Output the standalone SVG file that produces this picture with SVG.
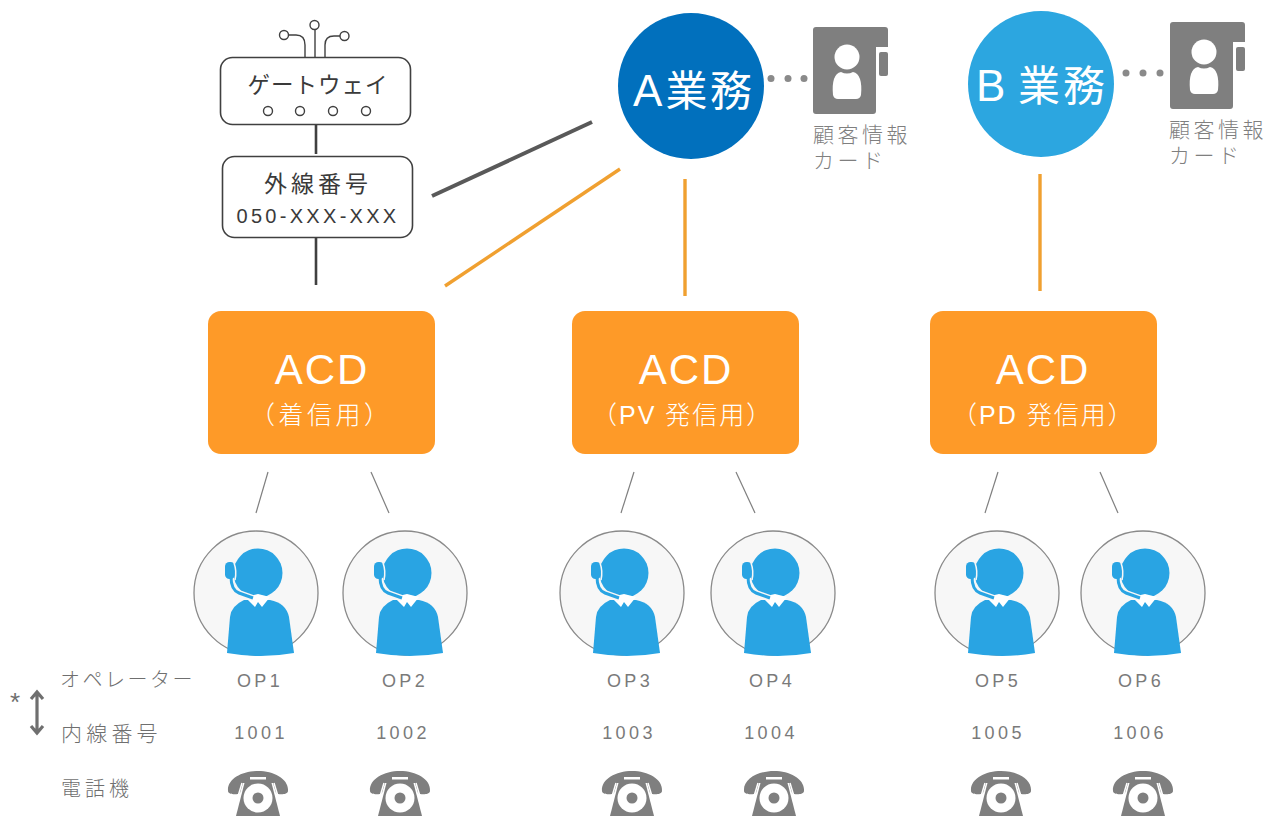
<svg xmlns="http://www.w3.org/2000/svg" width="1267" height="816" viewBox="0 0 1267 816">
<style>
text{font-family:"Liberation Sans","Noto Sans CJK JP",sans-serif}
.g{fill:#7f7f7f;font-size:21px;letter-spacing:3.5px;font-weight:300}
.op{fill:#7a7a7a;font-size:18px;letter-spacing:3.4px;text-anchor:middle}
.k{fill:#3a3a3a;text-anchor:middle}
.acd{fill:#fe9a28}
.w{fill:#fff}
.big{fill:#fff;text-anchor:middle;font-size:42px;letter-spacing:2px}
.sub{fill:#fff;font-size:25px;font-weight:300}
.box{fill:#fff;stroke:#404040;stroke-width:1.6}
.ln{stroke:#404040;stroke-width:2.6;fill:none}
.or{stroke:#f0a030;stroke-width:3.4;fill:none}
.th{stroke:#7f7f7f;stroke-width:1.2;fill:none}
.thin{fill:none;stroke:#404040;stroke-width:1.4}
.leg{fill:#6f6f6f;font-weight:300}
</style>
<defs>
<g id="oper">
<circle cx="0" cy="0" r="62" fill="#f7f7f7" stroke="#8a8a8a" stroke-width="1.3"/>
<circle cx="2" cy="-20" r="24.500" fill="#29a4e3"/>
<path d="M-29 60 L-26 24 Q-25 13 -12 7 L14 7 Q30 10 33 24 L38 60 Q5 66 -29 60Z" fill="#29a4e3"/>
<path d="M-11 4 L-1 14 L2 9 L6 14 L14 4 L2 1Z" fill="#fff"/>
<path d="M-25 -16 Q-25 -3 -17 0 L-3 5" fill="none" stroke="#f7f7f7" stroke-width="6"/>
<path d="M-25 -16 Q-25 -3 -17 0 L-3 5" fill="none" stroke="#29a4e3" stroke-width="3"/>
<rect x="-31" y="-31" width="10" height="17" rx="4.500" fill="#29a4e3"/>
<path d="M-22 -30 Q-19 -22 -21 -13" fill="none" stroke="#f7f7f7" stroke-width="1.500"/>
</g>
<g id="phone">
<path d="M-30 -4 C-31 -16 -16 -24 0 -24 C16 -24 31 -16 30 -4 C30 0 20 0 18 -2 L15 -12 L-15 -12 L-18 -2 C-20 0 -30 0 -30 -4Z" fill="#7f7f7f"/>
<path d="M-13 -14 L13 -14 L22 21 L-22 21Z" fill="#7f7f7f"/>
<path d="M-16 -12 L-22 8 M16 -12 L22 8" stroke="#fff" stroke-width="1.500" fill="none"/>
<rect x="-8" y="-18" width="16" height="2.500" fill="#fff"/>
<circle cx="0" cy="3" r="14.500" fill="#fff"/>
<circle cx="0" cy="3" r="5.500" fill="#7f7f7f"/>
</g>
<g id="card">
<path d="M3 0 H72 Q75 0 75 3 V20 H63 V84 Q63 87 60 87 H3 Q0 87 0 84 V3 Q0 0 3 0Z" fill="#7f7f7f"/>
<rect x="66" y="25" width="9" height="24" rx="2" fill="#7f7f7f"/>
<circle cx="34" cy="30" r="12.500" fill="#fff"/>
<path d="M20 68 Q19 58 21 52 Q23 46 28 45 Q34 48 40 45 Q45 46 47 52 Q49 58 48 68 Q47 72 43 72 L25 72 Q21 72 20 68Z" fill="#fff"/>
</g>
</defs>

<g id="connectors">
<line class="ln" x1="316" y1="124" x2="316" y2="154"/>
<line class="ln" x1="316" y1="237" x2="316" y2="285"/>
<line x1="432" y1="196" x2="592" y2="122" stroke="#595959" stroke-width="4"/>
<line class="or" x1="445" y1="286" x2="620" y2="169"/>
<line class="or" x1="685" y1="179" x2="685" y2="296"/>
<line class="or" x1="1040" y1="174" x2="1040" y2="291"/>
<line class="th" x1="268" y1="472" x2="256" y2="513"/>
<line class="th" x1="371" y1="472" x2="389" y2="513"/>
<line class="th" x1="634" y1="472" x2="621" y2="513"/>
<line class="th" x1="736" y1="472" x2="755" y2="513"/>
<line class="th" x1="998" y1="472" x2="985" y2="513"/>
<line class="th" x1="1100" y1="472" x2="1118" y2="513"/>
<g fill="#8a8a8a">
<circle cx="771" cy="78.500" r="3.500"/><circle cx="788" cy="78.500" r="3.500"/><circle cx="804" cy="78.500" r="3.500"/>
<circle cx="1126" cy="73" r="3.500"/><circle cx="1143" cy="73" r="3.500"/><circle cx="1160" cy="73" r="3.500"/>
</g>
</g>

<g id="gateway">
<path class="thin" d="M305 57 V45 Q305 35 296 35 H289"/>
<circle class="thin" cx="284" cy="35" r="4.500"/>
<line class="thin" x1="315" y1="57" x2="315" y2="30"/>
<circle class="thin" cx="314.500" cy="25" r="4.500"/>
<path class="thin" d="M325 57 V45 Q325 36 334 36 H340"/>
<circle class="thin" cx="344.500" cy="36" r="4.500"/>
<rect class="box" x="220.500" y="57.500" width="190" height="67" rx="12"/>
<text class="k" x="318" y="93" font-size="22.500" letter-spacing="1">ゲートウェイ</text>
<circle class="thin" cx="268" cy="111" r="4.500"/><circle class="thin" cx="300" cy="111" r="4.500"/><circle class="thin" cx="333" cy="111" r="4.500"/><circle class="thin" cx="366" cy="111" r="4.500"/>
</g>
<g id="number">
<rect class="box" x="222.500" y="156.500" width="190" height="81" rx="12"/>
<text class="k" x="318" y="192" font-size="23" letter-spacing="4">外線番号</text>
<text class="k" x="318" y="223" font-size="20" letter-spacing="3.300">050-XXX-XXX</text>
</g>

<g id="biz-a">
<circle cx="691" cy="86" r="73" fill="#0170bd"/>
<text class="w" y="106" font-size="42"><tspan x="633" font-size="44">A</tspan><tspan x="665.500">業</tspan><tspan x="710">務</tspan></text>
</g>
<g id="card-a">
<use href="#card" x="813" y="27"/>
<text class="g" x="813" y="142">顧客情報</text>
<text class="g" x="813" y="168">カード</text>
</g>
<g id="biz-b">
<circle cx="1041" cy="84" r="73" fill="#2ca6e0"/>
<text class="w" y="101" font-size="42"><tspan x="976" font-size="44">B</tspan><tspan x="1018">業</tspan><tspan x="1063">務</tspan></text>
</g>
<g id="card-b">
<use href="#card" x="1170" y="22"/>
<text class="g" x="1169" y="137">顧客情報</text>
<text class="g" x="1169" y="163">カード</text>
</g>

<g id="acd-1">
<rect class="acd" x="208" y="311" width="227" height="143" rx="13"/>
<text class="big" x="322" y="384">ACD</text>
<text class="sub" x="250" y="424" letter-spacing="3.500">（着信用）</text>
</g>
<g id="acd-2">
<rect class="acd" x="572" y="311" width="227" height="143" rx="13"/>
<text class="big" x="686" y="384">ACD</text>
<text class="sub" x="592" y="424" letter-spacing="2">（PV 発信用）</text>
</g>
<g id="acd-3">
<rect class="acd" x="930" y="311" width="227" height="143" rx="13"/>
<text class="big" x="1043" y="384">ACD</text>
<text class="sub" x="952" y="424" letter-spacing="2">（PD 発信用）</text>
</g>

<g id="op1"><use href="#oper" x="256" y="593"/><text class="op" x="260" y="687">OP1</text><text class="op" x="261" y="739">1001</text><use href="#phone" x="258" y="795"/></g>
<g id="op2"><use href="#oper" x="405" y="593"/><text class="op" x="405" y="687">OP2</text><text class="op" x="403" y="739">1002</text><use href="#phone" x="400" y="795"/></g>
<g id="op3"><use href="#oper" x="622" y="593"/><text class="op" x="630" y="687">OP3</text><text class="op" x="629" y="739">1003</text><use href="#phone" x="632" y="795"/></g>
<g id="op4"><use href="#oper" x="773" y="593"/><text class="op" x="772" y="687">OP4</text><text class="op" x="771" y="739">1004</text><use href="#phone" x="774" y="795"/></g>
<g id="op5"><use href="#oper" x="997" y="593"/><text class="op" x="998" y="687">OP5</text><text class="op" x="998" y="739">1005</text><use href="#phone" x="1001" y="795"/></g>
<g id="op6"><use href="#oper" x="1143" y="593"/><text class="op" x="1141" y="687">OP6</text><text class="op" x="1140" y="739">1006</text><use href="#phone" x="1143" y="795"/></g>

<g id="legend">
<text class="leg" x="60" y="687" font-size="20" letter-spacing="2.500">オペレーター</text>
<text class="leg" x="61" y="741" font-size="21" letter-spacing="4.200">内線番号</text>
<text class="leg" x="61" y="796" font-size="20" letter-spacing="4">電話機</text>
<text class="leg" x="10" y="711" font-size="26">*</text>
<path d="M37 692 V733 M31 699 L37 692 L43 699 M31 726 L37 733 L43 726" fill="none" stroke="#6f6f6f" stroke-width="3.200"/>
</g>
</svg>
